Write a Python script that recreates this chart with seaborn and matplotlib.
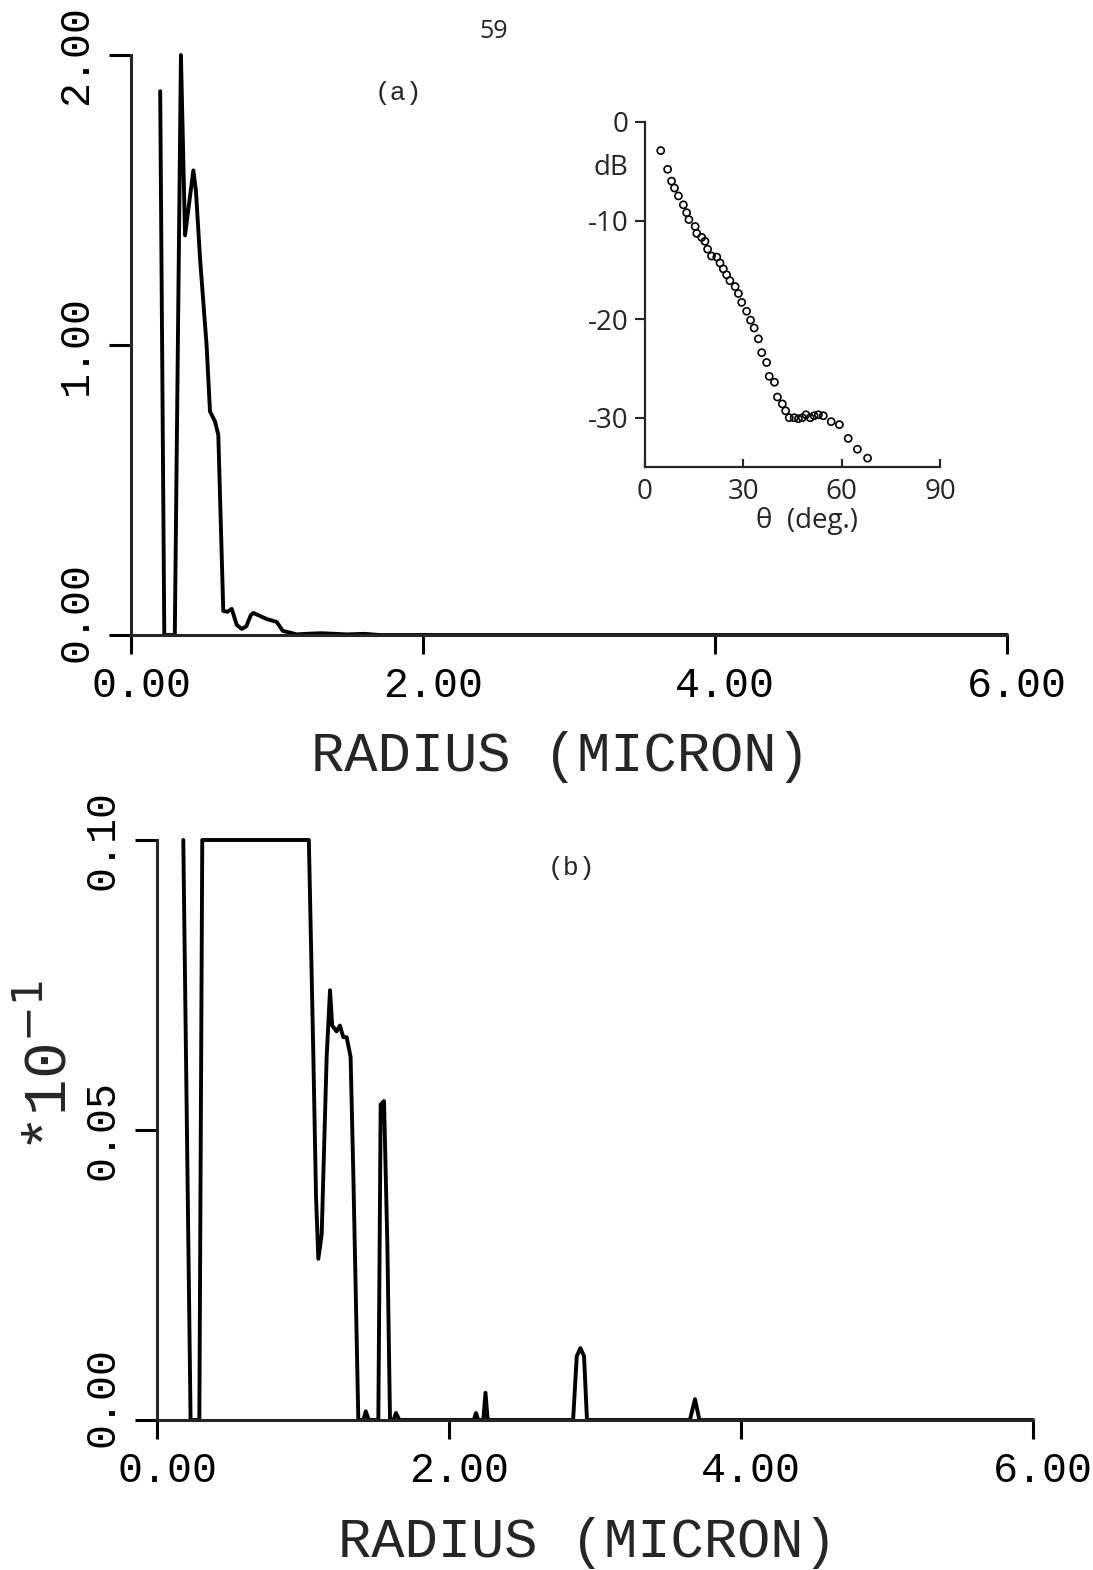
import matplotlib
matplotlib.use("Agg")
import matplotlib.pyplot as plt
import matplotlib.transforms as mtransforms
import numpy as np
import pandas as pd
import seaborn as sns

# ---------------- data ----------------
a_radius = [0.20, 0.228, 0.30, 0.342, 0.37, 0.427, 0.445, 0.473, 0.518, 0.541,
            0.575, 0.598, 0.632, 0.66, 0.69, 0.724, 0.758, 0.79, 0.82, 0.838,
            0.93, 0.998, 1.04, 1.09, 1.135, 1.20, 1.30, 1.40, 1.48, 1.60, 1.70, 6.00]
a_value = [1.875, 0.0, 0.0, 2.00, 1.378, 1.602, 1.53, 1.297, 0.997, 0.771,
           0.737, 0.69, 0.083, 0.08, 0.09, 0.035, 0.021, 0.03, 0.068, 0.076,
           0.055, 0.045, 0.014, 0.008, 0.002, 0.004, 0.006, 0.004, 0.002, 0.004, 0.0, 0.0]

b_radius = [0.18, 0.23, 0.29, 0.31, 1.04, 1.071, 1.089, 1.105, 1.128, 1.162,
            1.185, 1.20, 1.23, 1.253, 1.276, 1.299, 1.326, 1.345, 1.379, 1.413,
            1.43, 1.45, 1.516, 1.532, 1.555, 1.578, 1.596, 1.62, 1.637, 1.66,
            2.17, 2.185, 2.20, 2.235, 2.25, 2.265, 2.85, 2.875, 2.90, 2.925,
            2.945, 3.65, 3.685, 3.715, 6.00]
b_value = [0.100, 0.0, 0.0, 0.100, 0.100, 0.0626, 0.0387, 0.0278, 0.032, 0.0626,
           0.0741, 0.068, 0.067, 0.068, 0.066, 0.066, 0.0626, 0.042, 0.0, 0.0,
           0.0015, 0.0, 0.0, 0.0544, 0.055, 0.03, 0.0, 0.0, 0.0012, 0.0,
           0.0, 0.0012, 0.0, 0.0, 0.0047, 0.0, 0.0, 0.011, 0.0124, 0.011,
           0.0, 0.0, 0.0036, 0.0, 0.0]

inset_theta = [4.8, 6.9, 8.1, 9.0, 10.2, 11.7, 12.7, 13.4, 15.3, 15.8,
               17.3, 18.3, 19.1, 20.3, 21.9, 22.9, 23.9, 24.9, 25.9, 27.5,
               28.5, 29.5, 31.0, 32.2, 33.3, 34.6, 35.6, 37.1, 37.9, 39.5,
               40.4, 41.9, 42.9, 44.0, 45.5, 46.8, 48.0, 49.1, 50.4, 51.6,
               52.9, 54.4, 56.8, 59.3, 62.0, 64.8, 67.9]
inset_db = [-2.9, -4.8, -6.0, -6.7, -7.5, -8.4, -9.2, -9.9, -10.6, -11.3,
            -11.7, -12.1, -12.9, -13.6, -13.7, -14.3, -14.9, -15.5, -16.1, -16.7,
            -17.4, -18.3, -19.2, -20.1, -20.9, -22.0, -23.4, -24.4, -25.8, -26.4,
            -27.9, -28.6, -29.3, -30.0, -30.0, -30.1, -30.0, -29.7, -30.0, -29.8,
            -29.7, -29.8, -30.4, -30.7, -32.1, -33.2, -34.1]

x_ticks = [0, 2, 4, 6]
x_ticklabels = ["0.00", "2.00", "4.00", "6.00"]
a_yticks = [0, 1, 2]
a_yticklabels = ["0.00", "1.00", "2.00"]
b_yticks = [0, 0.05, 0.10]
b_yticklabels = ["0.00", "0.05", "0.10"]
inset_xticks = [0, 30, 60, 90]
inset_xticklabels = ["0", "30", "60", "90"]
inset_yticks = [0, -10, -20, -30]
inset_yticklabels = ["0", "-10", "-20", "-30"]

# ---------------- style ----------------
sns.set_style("ticks")
plt.rcParams["font.family"] = ["Liberation Mono", "DejaVu Sans"]
plt.rcParams["axes.linewidth"] = 2.2
plt.rcParams["axes.unicode_minus"] = False

W, H = 1093, 1570
fig = plt.figure(figsize=(W / 100, H / 100), dpi=100)

ax_a = fig.add_axes([131 / W, 935 / H, 876 / W, 580 / H])
ax_b = fig.add_axes([157 / W, 150 / H, 876 / W, 580 / H])
ax_in = fig.add_axes([645 / W, 1103 / H, 295 / W, 345 / H])

df_a = pd.DataFrame({"radius": a_radius, "value": a_value})
df_b = pd.DataFrame({"radius": b_radius, "value": b_value})
df_in = pd.DataFrame({"theta": inset_theta, "db": inset_db})

sns.lineplot(data=df_a, x="radius", y="value", ax=ax_a, sort=False,
             estimator=None, color="black", linewidth=2.8)
sns.lineplot(data=df_b, x="radius", y="value", ax=ax_b, sort=False,
             estimator=None, color="black", linewidth=2.8)
for ax in (ax_a, ax_b):
    for ln in ax.lines:
        ln.set_clip_on(False)
        ln.set_solid_joinstyle("round")

tick_font = ["Liberation Mono", "DejaVu Sans"]


def style_main(ax, yticks, ylabels, ymax):
    ax.set_xlim(0, 6)
    ax.set_ylim(0, ymax)
    sns.despine(ax=ax)
    ax.set_xticks(x_ticks, x_ticklabels)
    ax.set_yticks(yticks, ylabels, rotation=90, va="center")
    ax.tick_params(axis="x", direction="out", length=14, width=2.2, pad=8,
                   labelsize=30, colors="black")
    ax.tick_params(axis="y", direction="out", length=16, width=2.2, pad=9,
                   labelsize=30, colors="black")
    for lbl in ax.get_xticklabels() + ax.get_yticklabels():
        lbl.set_family(tick_font)
    ax.set_xlabel("RADIUS (MICRON)", fontsize=40, family=tick_font)
    # shift tick labels slightly, as on the plotter output
    shift_x = mtransforms.ScaledTranslation(0.10, 0, fig.dpi_scale_trans)
    for lbl in ax.get_xticklabels():
        lbl.set_transform(lbl.get_transform() + shift_x)
    shift_y = mtransforms.ScaledTranslation(0, 0.23, fig.dpi_scale_trans)
    lbl0 = ax.get_yticklabels()[0]
    lbl0.set_transform(lbl0.get_transform() + shift_y)


style_main(ax_a, a_yticks, a_yticklabels, 2.0)
style_main(ax_b, b_yticks, b_yticklabels, 0.10)
ax_a.set_ylabel("")
ax_a.xaxis.set_label_coords(0.49, -0.165)
ax_b.xaxis.set_label_coords(0.491, -0.168)
ax_b.set_ylabel("*10$^{-1}$", fontsize=44, family=tick_font, rotation=90,
                va="center", ha="center")
ax_b.yaxis.set_label_coords(-0.122, 0.61)

# ---------------- inset ----------------
sns.scatterplot(data=df_in, x="theta", y="db", ax=ax_in, marker="o", s=26,
                color="black", linewidth=1.2, zorder=3)
for coll in ax_in.collections:
    coll.set_facecolor("none")
    coll.set_edgecolor("black")
    coll.set_clip_on(False)
ax_in.set_xlim(0, 90)
ax_in.set_ylim(-35, 0)
sns.despine(ax=ax_in)
for sp in ("left", "bottom"):
    ax_in.spines[sp].set_linewidth(1.6)
inset_font = ["Open Sans", "DejaVu Sans"]
ax_in.set_xticks(inset_xticks, inset_xticklabels)
ax_in.set_yticks(inset_yticks, inset_yticklabels)
ax_in.tick_params(axis="x", direction="in", length=6, width=1.5, pad=8,
                  labelsize=20)
ax_in.tick_params(axis="y", direction="out", length=7, width=1.5, pad=5,
                  labelsize=20)
for lbl in ax_in.get_xticklabels() + ax_in.get_yticklabels():
    lbl.set_family(inset_font)
ax_in.set_xlabel("\u03b8  (deg.)", fontsize=20, family=inset_font)
ax_in.xaxis.set_label_coords(0.549, -0.115)
ax_in.set_ylabel("")
ax_in.text(-0.115, 0.867, "dB", transform=ax_in.transAxes, ha="center",
           va="center", fontsize=20, family=inset_font)

# ---------------- annotations ----------------
fig.text(398 / W, 1 - 93 / H, "(a)", ha="center", va="center", fontsize=19,
         family=tick_font)
fig.text(571 / W, 1 - 868 / H, "(b)", ha="center", va="center", fontsize=19,
         family=tick_font)
fig.text(494 / W, 1 - 32 / H, "59", ha="center", va="center", fontsize=18,
         family=inset_font)

fig.savefig("out.png", dpi=100, facecolor="white")
